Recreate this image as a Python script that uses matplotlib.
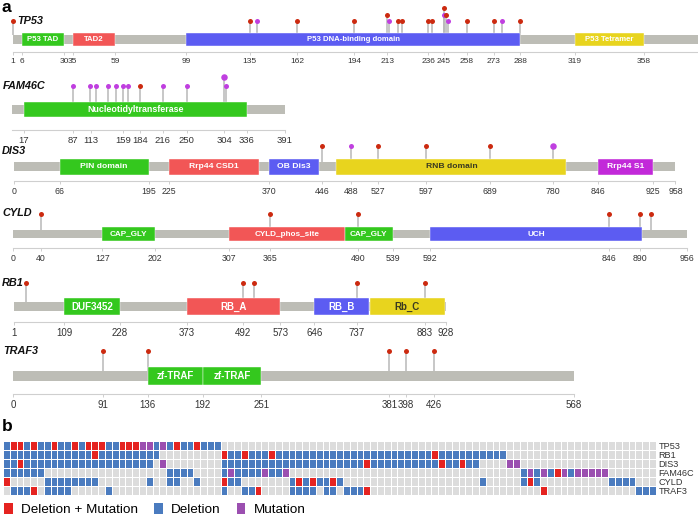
import numpy as np
import matplotlib.pyplot as plt
from matplotlib.colors import ListedColormap
from matplotlib.patches import Rectangle, Patch

plt.rcParams['font.family'] = ['Liberation Sans', 'DejaVu Sans']

W, H = 698, 518

# ---------- panel a : proteins ----------
# domains: (start, end, name, colour key)
tp53_len = 393
tp53_ticks = [1, 6, 30, 35, 59, 99, 135, 162, 194, 213, 236, 245, 258, 273, 288, 319, 358]
tp53_domains = [(6, 30, 'P53 TAD', 'g'), (35, 59, 'TAD2', 'r'),
                (99, 288, 'P53 DNA-binding domain', 'b'), (319, 358, 'P53 Tetramer', 'y')]
tp53_mut_pos = [1, 135, 139, 162, 194, 213, 214, 219, 221, 236, 238, 245, 245, 246, 247, 258, 273, 278, 288]
tp53_mut_kind = ['r', 'r', 'p', 'r', 'r', 'r', 'p', 'r', 'r', 'r', 'r', 'r', 'p', 'r', 'p', 'r', 'r', 'p', 'r']
tp53_mut_lvl = [0, 0, 0, 0, 0, 1, 0, 0, 0, 0, 0, 2, 1, 1, 0, 0, 0, 0, 0]
tp53_mut_n = [1] * 19

fam_len = 391
fam_ticks = [17, 87, 113, 159, 184, 216, 250, 304, 336, 391]
fam_domains = [(17, 336, 'Nucleotidyltransferase', 'g')]
fam_mut_pos = [87, 112, 120, 138, 149, 159, 166, 184, 216, 250, 306, 304]
fam_mut_kind = ['p', 'p', 'p', 'p', 'p', 'p', 'p', 'r', 'p', 'p', 'p', 'p']
fam_mut_lvl = [0, 0, 0, 0, 0, 0, 0, 0, 0, 0, 0, 1]
fam_mut_n = [1, 1, 1, 1, 1, 1, 1, 1, 1, 1, 1, 2]

dis3_len = 958
dis3_ticks = [0, 66, 195, 225, 370, 446, 488, 527, 597, 689, 780, 846, 925, 958]
dis3_domains = [(66, 195, 'PIN domain', 'g'), (225, 355, 'Rrp44 CSD1', 'r'),
                (370, 441, 'OB Dis3', 'b'), (467, 800, 'RNB domain', 'y'),
                (846, 925, 'Rrp44 S1', 'm')]
dis3_mut_pos = [446, 488, 527, 597, 689, 780]
dis3_mut_kind = ['r', 'p', 'r', 'r', 'r', 'p']
dis3_mut_lvl = [0, 0, 0, 0, 0, 0]
dis3_mut_n = [1, 1, 1, 1, 1, 2]

cyld_len = 956
cyld_ticks = [0, 40, 127, 202, 307, 365, 490, 539, 592, 846, 890, 956]
cyld_domains = [(127, 202, 'CAP_GLY', 'g'), (307, 471, 'CYLD_phos_site', 'r'),
                (471, 539, 'CAP_GLY', 'g'), (592, 893, 'UCH', 'b')]
cyld_mut_pos = [40, 365, 490, 846, 890, 905]
cyld_mut_kind = ['r'] * 6
cyld_mut_lvl = [0] * 6
cyld_mut_n = [1] * 6

rb1_len = 928
rb1_ticks = [1, 109, 228, 373, 492, 573, 646, 737, 883, 928]
rb1_domains = [(109, 228, 'DUF3452', 'g'), (373, 573, 'RB_A', 'r'),
               (646, 764, 'RB_B', 'b'), (766, 926, 'Rb_C', 'y')]
rb1_mut_pos = [27, 492, 516, 737, 883]
rb1_mut_kind = ['r'] * 5
rb1_mut_lvl = [0] * 5
rb1_mut_n = [1] * 5

traf3_len = 568
traf3_ticks = [0, 91, 136, 192, 251, 381, 398, 426, 568]
traf3_domains = [(136, 192, 'zf-TRAF', 'g'), (192, 251, 'zf-TRAF', 'g')]
traf3_mut_pos = [91, 136, 381, 398, 426]
traf3_mut_kind = ['r'] * 5
traf3_mut_lvl = [0] * 5
traf3_mut_n = [1] * 5

# ---------- panel b : alteration matrix ----------
hm_genes = ['TP53', 'RB1', 'DIS3', 'FAM46C', 'CYLD', 'TRAF3']
hm_tp53 = ("BRRBRBBR" "BBRBRRRB" "BRRRPPBP" "BRBBRBBB" "........" "........"
           "........" "........" "........" "........" "........" "........")
hm_rb1 = ("BBBBBBBB" "BBBBBRBB" "BBBBBBB." "........" "RBBRBBBR" "BBBBBBBB"
          "BBBBBBBB" "BBBBBBBR" "BBBBBBBB" "BB......" "........" "........")
hm_dis3 = ("BBRBBBBB" "BBBBBBBB" "BBBBBB.P" "........" "BBBBBBBB" "BBBBBBBB"
           "BBBBBRBB" "BBBBBBBB" "RBBRBB.." "..PP...." "........" "........")
hm_fam46c = ("BBBBBB.." "........" "........" "BBBB...." "BPBBBBPB" "BP......"
             "........" "........" "........" "....BPBP" "BRPBPPPP" "P.......")
hm_cyld = ("R.....BB" "BBBBBB.." ".....B.." "BB..B..." "RBB....." "..BRBRBB"
           "RB......" "........" "......B." "....BRB." "........" ".BBBB...")
hm_traf3 = (".BBBR.BB" "BB.....B" "........" "........" "B..BBR.." "..BBBB.B"
            "B.BBBR.." "........" "........" ".......R" "........" ".....BBB")
legend_labels = ['Deletion + Mutation', 'Deletion', 'Mutation']

# ---------- styling ----------
dom_col = {'g': '#34c81e', 'r': '#f25656', 'b': '#5c5cf2', 'y': '#e8d41e', 'm': '#c229d9'}
dark_text = {'RNB domain', 'Rb_C'}
mut_col = {'r': '#cc2a10', 'p': '#c03fe0'}
backbone_col = '#bdbdb6'
stem_col = '#b8b8b8'

# layout in pixels: x of aa 0, px per aa, circle y, backbone y, backbone h,
# domain h, axis y, tick font, domain font, stack step, title x, title y
layout = {
    'TP53':   (10.9, 1.768, 21.0, 39.5, 9, 13, 52.0, 6.0, 5.6, 6.5, 17, 21),
    'FAM46C': (12.0, 0.698, 85.7, 109.5, 9, 15.5, 130.0, 6.8, 6.4, 9.0, 3, 86),
    'DIS3':   (14.0, 0.6905, 146.0, 166.5, 9, 16, 180.7, 6.3, 6.1, 7.0, 2, 151),
    'CYLD':   (12.7, 0.705, 214.0, 234.0, 8.5, 14.5, 248.3, 6.3, 5.9, 7.0, 2, 213),
    'RB1':    (13.5, 0.4657, 282.7, 306.5, 9, 17, 322.0, 7.0, 7.0, 7.0, 2, 283),
    'TRAF3':  (13.4, 0.987, 351.0, 376.0, 10, 18, 394.0, 7.0, 7.0, 7.0, 3, 351),
}

fig = plt.figure(figsize=(W / 100, H / 100), dpi=100)


def draw_gene(name, length, ticks, domains, mpos, mkind, mlvl, mn):
    x0, sc, yc, ybb, bbh, dh, yax, tfs, dfs, step, tx, ty = layout[name]
    ax = fig.add_axes([x0 / W, 0, length * sc / W, 1])
    ax.set_xlim(0, length)
    ax.set_ylim(H, 0)
    ax.patch.set_visible(False)
    for s in ['top', 'left', 'right']:
        ax.spines[s].set_visible(False)
    start = ticks[0] if ticks[0] <= 1 else 0
    ax.spines['bottom'].set_position(('data', yax))
    ax.spines['bottom'].set_bounds(start, length)
    ax.spines['bottom'].set_color('#cfcfcf')
    ax.spines['bottom'].set_linewidth(0.8)
    ax.set_yticks([])
    ax.set_xticks(ticks)
    ax.set_xticklabels([str(t) for t in ticks])
    ax.tick_params(axis='x', length=2.2, width=0.7, color='#cfcfcf', pad=2.2,
                   labelsize=tfs, labelcolor='#333333')

    ax.add_patch(Rectangle((start, ybb - bbh / 2), length - start, bbh,
                           facecolor=backbone_col, edgecolor='none', zorder=1))
    for s, e, label, k in domains:
        ax.add_patch(Rectangle((s, ybb - dh / 2), e - s, dh, facecolor=dom_col[k],
                               edgecolor='white', linewidth=0.3, zorder=2))
        ax.text((s + e) / 2, ybb, label, ha='center', va='center', fontsize=dfs,
                fontweight='bold', color='#3a3a20' if label in dark_text else 'white',
                zorder=3)

    for p, k, lv, n in zip(mpos, mkind, mlvl, mn):
        y = yc - lv * step
        ax.vlines(p, y, ybb - bbh / 2, color=stem_col, linewidth=1.1, zorder=0)
        ax.plot(p, y, 'o', ms=3.6 * (1 + 0.3 * (n - 1)), color=mut_col[k],
                markeredgewidth=0, zorder=4, clip_on=False)

    fig.text(tx / W, 1 - ty / H, name, fontsize=7.8, fontweight='bold',
             fontstyle='italic', ha='left', va='center', color='#111111')


draw_gene('TP53', tp53_len, tp53_ticks, tp53_domains, tp53_mut_pos, tp53_mut_kind, tp53_mut_lvl, tp53_mut_n)
draw_gene('FAM46C', fam_len, fam_ticks, fam_domains, fam_mut_pos, fam_mut_kind, fam_mut_lvl, fam_mut_n)
draw_gene('DIS3', dis3_len, dis3_ticks, dis3_domains, dis3_mut_pos, dis3_mut_kind, dis3_mut_lvl, dis3_mut_n)
draw_gene('CYLD', cyld_len, cyld_ticks, cyld_domains, cyld_mut_pos, cyld_mut_kind, cyld_mut_lvl, cyld_mut_n)
draw_gene('RB1', rb1_len, rb1_ticks, rb1_domains, rb1_mut_pos, rb1_mut_kind, rb1_mut_lvl, rb1_mut_n)
draw_gene('TRAF3', traf3_len, traf3_ticks, traf3_domains, traf3_mut_pos, traf3_mut_kind, traf3_mut_lvl, traf3_mut_n)

# ---------- panel b ----------
hm_colors = ['#dcdcdc', '#4a7bbf', '#e52320', '#9b4fb0']
code = {'.': 0, 'B': 1, 'R': 2, 'P': 3}
rows = [hm_tp53, hm_rb1, hm_dis3, hm_fam46c, hm_cyld, hm_traf3]
M = np.array([[code[c] for c in r] for r in rows])

hx0, hx1, hy0, hy1 = 3, 655.8, 441, 495
axh = fig.add_axes([hx0 / W, 1 - hy1 / H, (hx1 - hx0) / W, (hy1 - hy0) / H])
axh.pcolormesh(M, cmap=ListedColormap(hm_colors), vmin=-0.5, vmax=3.5,
               edgecolors='white', linewidth=0.7)
axh.set_xlim(0, M.shape[1])
axh.set_ylim(M.shape[0], 0)
axh.set_xticks([])
axh.yaxis.tick_right()
axh.set_yticks(np.arange(len(hm_genes)) + 0.5)
axh.set_yticklabels(hm_genes)
axh.tick_params(axis='y', length=0, pad=2, labelsize=6.6, labelcolor='#333333')
for s in axh.spines.values():
    s.set_visible(False)

handles = [Patch(facecolor=hm_colors[2], label=legend_labels[0]),
           Patch(facecolor=hm_colors[1], label=legend_labels[1]),
           Patch(facecolor=hm_colors[3], label=legend_labels[2])]
fig.legend(handles=handles, loc='lower left', bbox_to_anchor=(4 / W, 2 / H),
           ncol=3, frameon=False, fontsize=9.7, handlelength=0.65, handleheight=0.9,
           handletextpad=0.6, columnspacing=1.2, borderpad=0, borderaxespad=0)

fig.text(2 / W, 1 - 0 / H, 'a', fontsize=12.5, fontweight='bold', va='top', ha='left')
fig.text(2 / W, 1 - 419 / H, 'b', fontsize=12.5, fontweight='bold', va='top', ha='left')

fig.savefig('out.png', dpi=100)
